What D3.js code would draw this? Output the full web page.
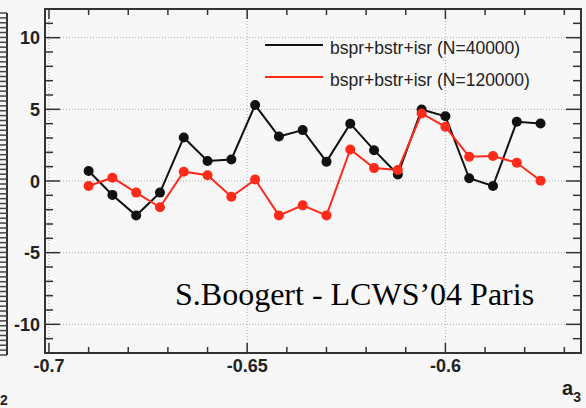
<!DOCTYPE html>
<html>
<head>
<meta charset="utf-8">
<script src="https://cdn.jsdelivr.net/npm/d3@7"></script>
<style>
  html, body { margin: 0; padding: 0; background: #f7f7f7; }
  svg { display: block; }
</style>
</head>
<body>
<script>
// a3 values of the scan points
var a3Values = [-0.690, -0.684, -0.678, -0.672, -0.666, -0.660, -0.654, -0.648, -0.642, -0.636,
                -0.630, -0.624, -0.618, -0.612, -0.606, -0.600, -0.594, -0.588, -0.582, -0.576];
// N=40000 sample
var black40k = [0.70, -0.97, -2.41, -0.81, 3.04, 1.40, 1.50, 5.30, 3.10, 3.55,
                1.35, 4.00, 2.15, 0.45, 4.99, 4.52, 0.19, -0.35, 4.13, 4.01];
// N=120000 sample
var red120k = [-0.35, 0.23, -0.81, -1.83, 0.65, 0.40, -1.10, 0.10, -2.40, -1.70,
               -2.40, 2.20, 0.90, 0.77, 4.71, 3.78, 1.69, 1.74, 1.27, 0.02];

var seriesNames = ["bspr+bstr+isr (N=40000)", "bspr+bstr+isr (N=120000)"];
var xTickLabels = [-0.7, -0.65, -0.6];
var yTickLabels = [-10, -5, 0, 5, 10];

var width = 586, height = 408;
var frame = {left: 45, right: 581, top: 9, bottom: 353};

var svg = d3.select("body").append("svg")
    .attr("width", width)
    .attr("height", height);

svg.append("rect").attr("width", width).attr("height", height).attr("fill", "#f7f7f7");

// scales
var x = d3.scaleLinear().domain([-0.701, -0.5658]).range([frame.left, frame.right]);
var y = d3.scaleLinear().domain([-12, 12]).range([frame.bottom, frame.top]);

// leftover strip of the neighbouring pad on the far left
var stripY = d3.scaleLinear().domain([0, 70]).range([355, 13]);
var strip = svg.append("g");
strip.append("line").attr("x1", 7).attr("x2", 7).attr("y1", 13).attr("y2", 355)
    .attr("stroke", "#333").attr("stroke-width", 2);
strip.selectAll("line.t").data(d3.range(0, 71)).enter().append("line")
    .attr("class", "t")
    .attr("x1", 0).attr("x2", 7)
    .attr("y1", function(d) { return stripY(d); })
    .attr("y2", function(d) { return stripY(d); })
    .attr("stroke", "#444").attr("stroke-width", 1.5);
svg.append("text").attr("x", 0).attr("y", 405)
    .attr("font-family", "Liberation Sans, Arial, sans-serif").attr("font-weight", "bold")
    .attr("font-size", 14).attr("fill", "#222").text("2");

// grid
var grid = svg.append("g").attr("stroke", "#aaa").attr("stroke-width", 1).attr("stroke-dasharray", "1,2");
grid.selectAll("line.gy").data(yTickLabels).enter().append("line")
    .attr("x1", frame.left).attr("x2", frame.right)
    .attr("y1", function(d) { return y(d); }).attr("y2", function(d) { return y(d); });
grid.selectAll("line.gx").data(xTickLabels).enter().append("line")
    .attr("y1", frame.top).attr("y2", frame.bottom)
    .attr("x1", function(d) { return x(d); }).attr("x2", function(d) { return x(d); });

// ticks (ROOT style, inside the frame on all sides)
var xMinor = d3.range(-70, -56).map(function(d) { return d / 100; });
var yMinor = d3.range(-11, 12);
var ticks = svg.append("g").attr("stroke", "#333").attr("stroke-width", 1.5);
function isMajorX(d) { return Math.abs(Math.round(d * 20) - d * 20) < 1e-6; }
ticks.selectAll("line.xb").data(xMinor).enter().append("line")
    .attr("x1", function(d) { return x(d); }).attr("x2", function(d) { return x(d); })
    .attr("y1", frame.bottom)
    .attr("y2", function(d) { return frame.bottom - (isMajorX(d) ? 10 : 6); });
ticks.selectAll("line.xt").data(xMinor).enter().append("line")
    .attr("x1", function(d) { return x(d); }).attr("x2", function(d) { return x(d); })
    .attr("y1", frame.top)
    .attr("y2", function(d) { return frame.top + (isMajorX(d) ? 10 : 6); });
ticks.selectAll("line.yl").data(yMinor).enter().append("line")
    .attr("y1", function(d) { return y(d); }).attr("y2", function(d) { return y(d); })
    .attr("x1", frame.left)
    .attr("x2", function(d) { return frame.left + (d % 5 === 0 ? 15 : 8); });
ticks.selectAll("line.yr").data(yMinor).enter().append("line")
    .attr("y1", function(d) { return y(d); }).attr("y2", function(d) { return y(d); })
    .attr("x1", frame.right)
    .attr("x2", function(d) { return frame.right - (d % 5 === 0 ? 15 : 8); });

// frame
svg.append("rect")
    .attr("x", frame.left).attr("y", frame.top)
    .attr("width", frame.right - frame.left).attr("height", frame.bottom - frame.top)
    .attr("fill", "none").attr("stroke", "#333").attr("stroke-width", 2);

// tick labels
var labelFont = "Liberation Sans, Arial, sans-serif";
svg.selectAll("text.xl").data(xTickLabels).enter().append("text")
    .attr("x", function(d) { return x(d); }).attr("y", 372)
    .attr("text-anchor", "middle")
    .attr("font-family", labelFont).attr("font-weight", "bold").attr("font-size", 18)
    .attr("fill", "#222")
    .text(function(d) { return d; });
svg.selectAll("text.yl").data(yTickLabels).enter().append("text")
    .attr("x", 40).attr("y", function(d) { return y(d) + 6.5; })
    .attr("text-anchor", "end")
    .attr("font-family", labelFont).attr("font-weight", "bold").attr("font-size", 18)
    .attr("fill", "#222")
    .text(function(d) { return d; });

// axis title a_3
var xt = svg.append("text").attr("x", 562).attr("y", 395)
    .attr("font-family", labelFont).attr("font-weight", "bold").attr("font-size", 20).attr("fill", "#222");
xt.append("tspan").text("a");
xt.append("tspan").attr("dy", 7).attr("font-size", 14).text("3");

// series
var colors = ["#111", "#ff2a1a"];
var seriesData = [black40k, red120k];
var line = d3.line()
    .x(function(d) { return x(d.a3); })
    .y(function(d) { return y(d.v); });

seriesData.forEach(function(vals, k) {
  var pts = vals.map(function(v, i) { return {a3: a3Values[i], v: v}; });
  svg.append("path").datum(pts)
      .attr("d", line)
      .attr("fill", "none")
      .attr("stroke", colors[k])
      .attr("stroke-width", 2);
  svg.append("g").selectAll("circle").data(pts).enter().append("circle")
      .attr("cx", function(d) { return x(d.a3); })
      .attr("cy", function(d) { return y(d.v); })
      .attr("r", 5)
      .attr("fill", colors[k]);
});

// legend
var legend = svg.append("g");
seriesNames.forEach(function(name, k) {
  var ly = 45 + k * 32;
  legend.append("line")
      .attr("x1", 265).attr("x2", 323).attr("y1", ly).attr("y2", ly)
      .attr("stroke", colors[k]).attr("stroke-width", 2);
  legend.append("text")
      .attr("x", 330).attr("y", ly + 9)
      .attr("font-family", labelFont).attr("font-size", 17.5)
      .attr("fill", "#222")
      .text(name);
});

// annotation
svg.append("text")
    .attr("x", 175).attr("y", 305)
    .attr("font-family", "Liberation Serif, Times New Roman, serif")
    .attr("font-size", 32)
    .attr("fill", "#000")
    .text("S.Boogert - LCWS\u201904 Paris");
</script>
</body>
</html>
